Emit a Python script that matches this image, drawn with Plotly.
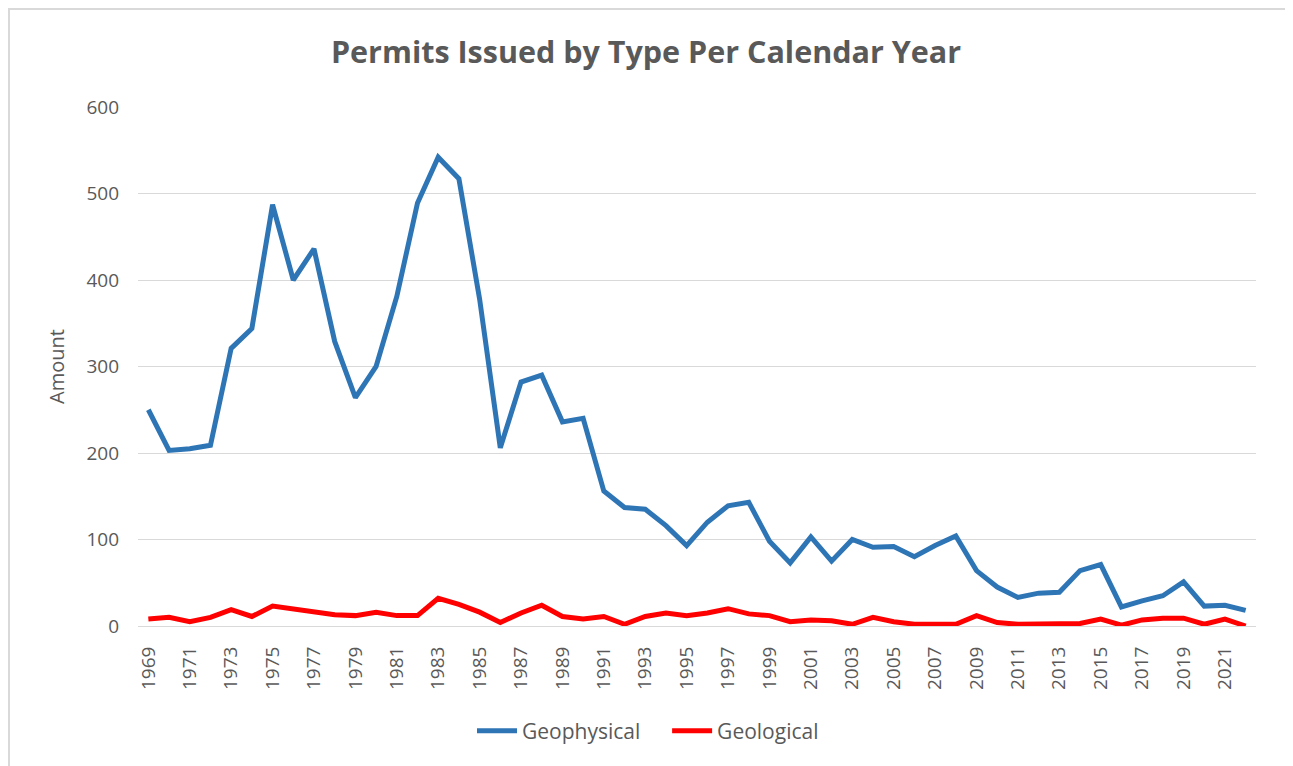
import plotly.graph_objects as go

years = list(range(1969, 2023))
geophysical = [250, 203, 205, 209, 321, 344, 487, 400, 436, 329,
               264, 300, 381, 489, 542, 517, 378, 206, 282, 290,
               236, 240, 156, 137, 135, 116, 93, 120, 139, 143,
               98, 73, 103, 75, 100, 91, 92, 80, 93, 104,
               64, 45, 33, 38, 39, 64, 71, 22, 29, 35,
               51, 23, 24, 18]
geological = [8, 10, 5, 10, 19, 11, 23, 20, 16, 13,
              12, 16, 12, 12, 32, 25, 16, 4, 15, 24,
              11, 8, 11, 2, 11, 15, 12, 15, 20, 14,
              12, 5, 7, 6, 2, 10, 5, 2, 2, 2,
              12, 4, 2, 2, 3, 3, 8, 1, 7, 9,
              9, 2, 8, 0]
tick_years = list(range(1969, 2023, 2))
tick_labels = [str(y) for y in tick_years]
y_ticks = [0, 100, 200, 300, 400, 500, 600]

W, H = 1293, 766
OFF = 8  # page body margin
L, T = 138 - OFF, 107 - OFF
R = W - (1256 - OFF)
B = H - (626 - OFF)
pw, ph = W - L - R, H - T - B
TXT = "#595959"

fig = go.Figure()
fig.add_trace(go.Scatter(x=years, y=geophysical, mode="lines",
                         name="Geophysical\u00a0\u00a0\u00a0\u00a0",
                         line=dict(color="#2E75B6", width=5)))
fig.add_trace(go.Scatter(x=years, y=geological, mode="lines", name="Geological",
                         line=dict(color="#FF0000", width=5)))

def px(x):
    return (x - OFF - L) / pw

def py(y):
    return (H - B - (y - OFF)) / ph

fig.add_shape(type="rect", xref="paper", yref="paper",
              x0=px(9), x1=px(1286), y0=py(775), y1=py(9),
              line=dict(color="#D9D9D9", width=2), fillcolor="rgba(0,0,0,0)", layer="below")

fig.update_layout(
    width=W, height=H,
    margin=dict(l=L, r=R, t=T, b=B),
    paper_bgcolor="white", plot_bgcolor="white",
    title=dict(text="<b>Permits Issued by Type Per Calendar Year</b>",
               font=dict(family="Open Sans", size=30.5, color=TXT),
               x=(646 - OFF) / W, xanchor="center", xref="container",
               y=1 - (52 - OFF) / H, yanchor="middle", yref="container"),
    legend=dict(orientation="h", x=(648 - OFF) / W, xanchor="center", xref="container",
                y=1 - (731 - OFF) / H, yanchor="middle", yref="container",
                font=dict(family="Open Sans", size=21, color=TXT),
                itemwidth=40, tracegroupgap=0),
    xaxis=dict(range=[1968.5, 2022.5], tickvals=tick_years, ticktext=tick_labels,
               tickangle=-90, showgrid=False, showline=True, linecolor="#D9D9D9", linewidth=1,
               ticks="", ticklabelstandoff=12,
               tickfont=dict(family="Open Sans", size=19, color=TXT), zeroline=False),
    yaxis=dict(range=[0, 600], tickvals=y_ticks, showgrid=True, gridcolor="#D9D9D9", gridwidth=1,
               zeroline=False, showline=False, ticks="", ticklabelstandoff=18,
               tickfont=dict(family="Open Sans", size=19, color=TXT),
               title=dict(text="Amount", font=dict(family="Open Sans", size=20, color=TXT), standoff=16)),
    showlegend=True,
)

fig.write_html("out.html")
